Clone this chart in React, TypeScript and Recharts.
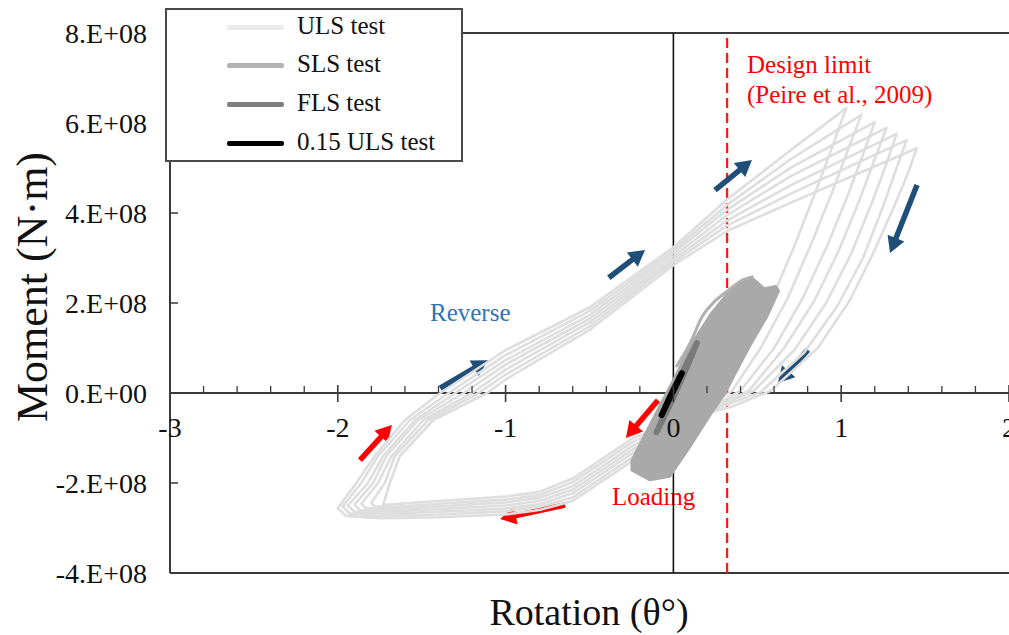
import React from 'react';
import { ScatterChart, Scatter, XAxis, YAxis, ReferenceLine, Legend } from 'recharts';

const SERIF = "'Liberation Serif', 'Times New Roman', Times, serif";

// ---------- layout constants ----------
const CHART_W = 1009;
const CHART_H = 635;
const MARGIN = { top: 33, right: 0, bottom: 0, left: 0 };
const Y_AXIS_W = 170;
const X_AXIS_H = 62;
const X_DOMAIN: [number, number] = [-3, 2];
const Y_DOMAIN: [number, number] = [-4e8, 8e8];
const PLOT_H = CHART_H - MARGIN.top - X_AXIS_H;
const ZERO_Y = MARGIN.top + (PLOT_H * (Y_DOMAIN[1] - 0)) / (Y_DOMAIN[1] - Y_DOMAIN[0]);
const PLOT_LEFT = MARGIN.left + Y_AXIS_W;
const AXIS_COLOR = '#3a3a3a';

// ---------- ticks ----------
const X_TICKS = [
  -3, -2.8, -2.6, -2.4, -2.2, -2, -1.8, -1.6, -1.4, -1.2, -1, -0.8, -0.6, -0.4, -0.2, 0,
  0.2, 0.4, 0.6, 0.8, 1, 1.2, 1.4, 1.6, 1.8, 2,
];
const X_MAJOR = [-3, -2, -1, 0, 1, 2];
const Y_TICKS = [-4e8, -2e8, 0, 2e8, 4e8, 6e8, 8e8];
const Y_TICK_LABELS = ['-4.E+08', '-2.E+08', '0.E+00', '2.E+08', '4.E+08', '6.E+08', '8.E+08'];
const DESIGN_LIMIT_X = 0.32;

// ---------- data: [rotation (deg), moment (E+08 N·m)] ----------
const ULS_LOOP_1 = [
  [-1.39, 0], [-1.0, 0.95], [-0.5, 1.9], [0, 3.24], [0.32, 4.3], [0.7, 5.4], [1.03, 6.33],
  [0.95, 5.5], [0.86, 4.6], [0.73, 3.35], [0.6, 2.2], [0.45, 1.0], [0.3, 0.05],
  [0.1, -0.6], [-0.24, -1.5], [-0.44, -2.0], [-0.6, -2.4], [-0.8, -2.6], [-1.0, -2.7], [-1.4, -2.76], [-1.75, -2.78],
  [-1.95, -2.73], [-2.0, -2.56],
  [-1.89, -2.0], [-1.78, -1.4], [-1.6, -0.6], [-1.39, 0],
];
const ULS_LOOP_2 = [
  [-1.34, 0], [-1.0, 0.84], [-0.5, 1.82], [0, 3.17], [0.32, 4.18], [0.7, 5.2], [1.12, 6.18],
  [1.04, 5.4], [0.95, 4.5], [0.82, 3.3], [0.68, 2.1], [0.52, 1.0], [0.35, 0.05],
  [0.1, -0.6], [-0.24, -1.42], [-0.44, -1.92], [-0.6, -2.32], [-0.8, -2.53], [-1.0, -2.63], [-1.4, -2.7], [-1.75, -2.73],
  [-1.93, -2.68], [-1.97, -2.52],
  [-1.86, -2.0], [-1.76, -1.4], [-1.57, -0.6], [-1.34, 0],
];
const ULS_LOOP_3 = [
  [-1.3, 0], [-1.0, 0.73], [-0.5, 1.73], [0, 3.11], [0.32, 4.07], [0.7, 5.01], [1.2, 6.02],
  [1.13, 5.3], [1.04, 4.4], [0.92, 3.3], [0.77, 2.1], [0.6, 1.0], [0.4, 0.05],
  [0.1, -0.59], [-0.24, -1.33], [-0.44, -1.83], [-0.6, -2.23], [-0.8, -2.47], [-1.0, -2.57], [-1.4, -2.64], [-1.72, -2.68],
  [-1.9, -2.64], [-1.94, -2.5],
  [-1.82, -2.0], [-1.73, -1.4], [-1.54, -0.6], [-1.3, 0],
];
const ULS_LOOP_4 = [
  [-1.25, 0], [-1.0, 0.63], [-0.5, 1.65], [0, 3.04], [0.32, 3.95], [0.7, 4.82], [1.27, 5.89],
  [1.2, 5.2], [1.11, 4.3], [0.99, 3.2], [0.84, 2.05], [0.66, 1.0], [0.45, 0.05],
  [0.1, -0.58], [-0.24, -1.25], [-0.44, -1.75], [-0.6, -2.15], [-0.8, -2.4], [-1.0, -2.5], [-1.4, -2.58], [-1.7, -2.63],
  [-1.87, -2.6], [-1.9, -2.48],
  [-1.79, -2.0], [-1.71, -1.4], [-1.52, -0.6], [-1.25, 0],
];
const ULS_LOOP_5 = [
  [-1.2, 0], [-1.0, 0.52], [-0.5, 1.57], [0, 2.97], [0.32, 3.83], [0.7, 4.62], [1.33, 5.76],
  [1.27, 5.1], [1.18, 4.2], [1.06, 3.1], [0.91, 2.0], [0.72, 0.95], [0.48, 0.05],
  [0.1, -0.57], [-0.24, -1.17], [-0.44, -1.67], [-0.6, -2.07], [-0.8, -2.33], [-1.0, -2.43], [-1.4, -2.52], [-1.68, -2.58],
  [-1.83, -2.56], [-1.86, -2.46],
  [-1.76, -2.0], [-1.68, -1.4], [-1.49, -0.6], [-1.2, 0],
];
const ULS_LOOP_6 = [
  [-1.16, 0], [-1.0, 0.41], [-0.5, 1.48], [0, 2.91], [0.32, 3.72], [0.7, 4.43], [1.39, 5.62],
  [1.33, 5.0], [1.25, 4.15], [1.13, 3.0], [0.98, 1.95], [0.78, 0.9], [0.52, 0.02],
  [0.1, -0.56], [-0.24, -1.08], [-0.44, -1.58], [-0.6, -1.98], [-0.8, -2.27], [-1.0, -2.37], [-1.4, -2.46], [-1.66, -2.53],
  [-1.78, -2.52], [-1.8, -2.44],
  [-1.72, -2.0], [-1.66, -1.4], [-1.46, -0.6], [-1.16, 0],
];
const ULS_LOOP_7 = [
  [-1.11, 0], [-1.0, 0.3], [-0.5, 1.4], [0, 2.84], [0.32, 3.6], [0.7, 4.23], [1.45, 5.44],
  [1.4, 4.9], [1.31, 4.1], [1.19, 3.1], [1.05, 2.05], [0.86, 1.0], [0.58, 0.05],
  [0.35, -0.3], [0.1, -0.55], [-0.24, -1.0], [-0.44, -1.5], [-0.6, -1.9], [-0.8, -2.2], [-1.0, -2.3], [-1.4, -2.4],
  [-1.73, -2.49],
  [-1.69, -2.0], [-1.63, -1.4], [-1.43, -0.6], [-1.11, 0],
];
const ULS_LOOPS = [ULS_LOOP_1, ULS_LOOP_2, ULS_LOOP_3, ULS_LOOP_4, ULS_LOOP_5, ULS_LOOP_6, ULS_LOOP_7];

const SLS_ENVELOPE = [
  [-0.25, -1.5], [-0.25, -1.72], [-0.14, -1.94], [-0.02, -1.86], [0.1, -1.2], [0.22, -0.5],
  [0.31, 0], [0.45, 1.0], [0.56, 1.7], [0.63, 2.27], [0.61, 2.38], [0.54, 2.33], [0.49, 2.5],
  [0.46, 2.58], [0.41, 2.52], [0.34, 2.3], [0.22, 1.75], [0.1, 1.05], [0.0, 0.3], [-0.12, -0.55], [-0.25, -1.5],
];
const SLS_OUTER = [
  [0.02, 0.6], [0.1, 1.11], [0.17, 1.69], [0.25, 2.05], [0.33, 2.29], [0.4, 2.48], [0.47, 2.58],
];
const FLS_LOOP = [
  [-0.1, -0.87], [-0.02, -0.2], [0.06, 0.5], [0.14, 1.11], [0.1, 0.75], [0.0, -0.1], [-0.1, -0.87],
];
const ULS015_LOOP = [
  [-0.07, -0.49], [-0.01, 0.0], [0.05, 0.44], [0.02, 0.2], [-0.04, -0.25], [-0.07, -0.49],
];

// arrows: [tailX, tailY(E+08), tipX, tipY(E+08)]
const REVERSE_ARROWS = [
  [-1.39, 0.11, -1.105, 0.73],
  [-0.385, 2.56, -0.169, 3.18],
  [0.248, 4.51, 0.468, 5.18],
  [1.452, 4.62, 1.291, 3.11],
  [0.802, 0.96, 0.623, 0.22],
];
const LOADING_ARROWS = [
  [-1.868, -1.49, -1.678, -0.71],
  [-0.646, -2.49, -1.033, -2.8],
  [-0.092, -0.16, -0.283, -1.0],
];

const LEGEND_ITEMS = [
  { name: 'ULS test', color: '#ebebeb' },
  { name: 'SLS test', color: '#b3b3b3' },
  { name: 'FLS test', color: '#7f7f7f' },
  { name: '0.15 ULS test', color: '#000000' },
];

const E8 = 1e8;
const toPoints = (arr: number[][]) => arr.map(([x, y]) => ({ x, y: y * E8 }));

// ---------- custom renderers ----------
const XTick = (props: any) => {
  const { x, payload } = props;
  const v = payload.value;
  const major = X_MAJOR.indexOf(v) >= 0;
  return (
    <g>
      {major ? (
        <line x1={x} x2={x} y1={ZERO_Y - 8} y2={ZERO_Y + 9} stroke={AXIS_COLOR} strokeWidth={1.6} />
      ) : (
        <line x1={x} x2={x} y1={ZERO_Y - 7} y2={ZERO_Y} stroke={AXIS_COLOR} strokeWidth={1.3} />
      )}
      {major && (
        <text x={x} y={ZERO_Y + 44} textAnchor="middle" fontSize={28} fontFamily={SERIF} fill="#111">
          {String(v)}
        </text>
      )}
    </g>
  );
};

const YTick = (props: any) => {
  const { y, payload } = props;
  const idx = Y_TICKS.indexOf(payload.value);
  return (
    <g>
      <line x1={PLOT_LEFT} x2={PLOT_LEFT + 8} y1={y} y2={y} stroke={AXIS_COLOR} strokeWidth={1.5} />
      <text x={PLOT_LEFT - 23} y={y + 10} textAnchor="end" fontSize={28} fontFamily={SERIF} fill="#111">
        {Y_TICK_LABELS[idx]}
      </text>
    </g>
  );
};

const makeArrow = (color: string) => (p: any) => {
  const { x1, y1, x2, y2 } = p;
  const dx = x2 - x1;
  const dy = y2 - y1;
  const L = Math.hypot(dx, dy) || 1;
  const ux = dx / L;
  const uy = dy / L;
  const hl = 16;
  const hw = 9;
  const bx = x2 - ux * hl;
  const by = y2 - uy * hl;
  const px = -uy;
  const py = ux;
  return (
    <g>
      <line x1={x1} y1={y1} x2={bx + ux * 2} y2={by + uy * 2} stroke={color} strokeWidth={5.5} />
      <polygon
        points={`${x2},${y2} ${bx + px * hw},${by + py * hw} ${bx - px * hw},${by - py * hw}`}
        fill={color}
      />
    </g>
  );
};

const filledPolygon = (fill: string) => (p: any) => {
  const pts = p.points || [];
  if (!pts.length) return <g />;
  const d = pts.map((pt: any, i: number) => `${i === 0 ? 'M' : 'L'}${pt.x},${pt.y}`).join(' ') + ' Z';
  return <path d={d} fill={fill} stroke={fill} strokeWidth={2} strokeLinejoin="round" />;
};

const NoDot = () => <g />;

const LegendBox = () => (
  <div
    style={{
      width: 298,
      height: 154,
      border: '2px solid #4a4a4a',
      background: '#fff',
      boxSizing: 'border-box',
      position: 'relative',
      fontFamily: SERIF,
    }}
  >
    {LEGEND_ITEMS.map((it, i) => {
      const lineY = 19 + i * 38.7;
      return (
        <React.Fragment key={it.name}>
          <div
            style={{
              position: 'absolute',
              left: 60,
              top: lineY - 2.5 - 2,
              width: 57,
              height: 5,
              borderRadius: 2,
              background: it.color,
            }}
          />
          <div
            style={{
              position: 'absolute',
              left: 130,
              top: lineY - 14.5 - 2,
              fontSize: 25,
              lineHeight: '25px',
              color: '#111',
              whiteSpace: 'nowrap',
            }}
          >
            {it.name}
          </div>
        </React.Fragment>
      );
    })}
  </div>
);

export default function App() {
  return (
    <div style={{ position: 'absolute', left: 0, top: 0, width: CHART_W, height: CHART_H, background: '#fff' }}>
      <ScatterChart width={CHART_W} height={CHART_H} margin={MARGIN}>
        <XAxis
          type="number"
          dataKey="x"
          domain={X_DOMAIN}
          ticks={X_TICKS}
          interval={0}
          allowDataOverflow
          axisLine={false}
          tickLine={false}
          height={X_AXIS_H}
          tick={<XTick />}
        />
        <YAxis
          type="number"
          dataKey="y"
          domain={Y_DOMAIN}
          ticks={Y_TICKS}
          interval={0}
          allowDataOverflow
          width={Y_AXIS_W}
          axisLine={{ stroke: AXIS_COLOR, strokeWidth: 2 }}
          tickLine={false}
          tick={<YTick />}
        />
        <Legend
          layout="horizontal"
          verticalAlign="middle"
          align="center"
          content={() => <LegendBox />}
          wrapperStyle={{ position: 'absolute', left: 165, top: 8, width: 298, height: 154 }}
        />

        {ULS_LOOPS.map((loop, i) => (
          <Scatter
            key={'uls' + i}
            name="ULS test"
            legendType={i === 0 ? 'line' : 'none'}
            data={toPoints(loop)}
            fill="#dedede"
            line={{ stroke: '#dedede', strokeWidth: 2.6, strokeLinejoin: 'round' }}
            lineJointType="linear"
            shape={NoDot}
            isAnimationActive={false}
          />
        ))}
        <Scatter
          name="SLS test"
          data={toPoints(SLS_ENVELOPE)}
          fill="#a9a9a9"
          line={filledPolygon('#a9a9a9')}
          shape={NoDot}
          isAnimationActive={false}
        />
        <Scatter
          name="SLS outer"
          legendType="none"
          data={toPoints(SLS_OUTER)}
          fill="#b0b0b0"
          line={{ stroke: '#b0b0b0', strokeWidth: 3, strokeLinecap: 'round' }}
          lineJointType="monotoneX"
          shape={NoDot}
          isAnimationActive={false}
        />
        <Scatter
          name="FLS test"
          data={toPoints(FLS_LOOP)}
          fill="#7a7a7a"
          line={{ stroke: '#7a7a7a', strokeWidth: 6, strokeLinecap: 'round', strokeLinejoin: 'round' }}
          lineJointType="linear"
          shape={NoDot}
          isAnimationActive={false}
        />
        <Scatter
          name="0.15 ULS test"
          data={toPoints(ULS015_LOOP)}
          fill="#000"
          line={{ stroke: '#000', strokeWidth: 6, strokeLinecap: 'round', strokeLinejoin: 'round' }}
          lineJointType="linear"
          shape={NoDot}
          isAnimationActive={false}
        />

        <ReferenceLine y={Y_DOMAIN[1]} stroke={AXIS_COLOR} strokeWidth={2} />
        <ReferenceLine y={Y_DOMAIN[0]} stroke={AXIS_COLOR} strokeWidth={2} />
        <ReferenceLine y={0} stroke={AXIS_COLOR} strokeWidth={2} />
        <ReferenceLine x={0} stroke="#111" strokeWidth={1.6} />
        <ReferenceLine x={DESIGN_LIMIT_X} stroke="#ff1a1a" strokeWidth={2.2} strokeDasharray="10 5" />

        {REVERSE_ARROWS.map((a, i) => (
          <ReferenceLine
            key={'ra' + i}
            segment={[{ x: a[0], y: a[1] * E8 }, { x: a[2], y: a[3] * E8 }]}
            ifOverflow="visible"
            shape={makeArrow('#1f4e79')}
          />
        ))}
        {LOADING_ARROWS.map((a, i) => (
          <ReferenceLine
            key={'la' + i}
            segment={[{ x: a[0], y: a[1] * E8 }, { x: a[2], y: a[3] * E8 }]}
            ifOverflow="visible"
            shape={makeArrow('#ff0000')}
          />
        ))}

        <text x={747} y={73} fontSize={25} fontFamily={SERIF} fill="#ff0000">Design limit</text>
        <text x={747} y={103} fontSize={25} fontFamily={SERIF} fill="#ff0000">(Peire et al., 2009)</text>
        <text x={430} y={321} fontSize={25} fontFamily={SERIF} fill="#2e75b6">Reverse</text>
        <text x={612} y={505} fontSize={25} fontFamily={SERIF} fill="#ff0000">Loading</text>
        <text x={589} y={625} fontSize={38} fontFamily={SERIF} fill="#111" textAnchor="middle">
          Rotation (θ°)
        </text>
        <text
          x={0}
          y={0}
          fontSize={44}
          fontFamily={SERIF}
          fill="#111"
          textAnchor="middle"
          transform="translate(47, 287) rotate(-90)"
        >
          Moment (N·m)
        </text>
      </ScatterChart>
    </div>
  );
}
